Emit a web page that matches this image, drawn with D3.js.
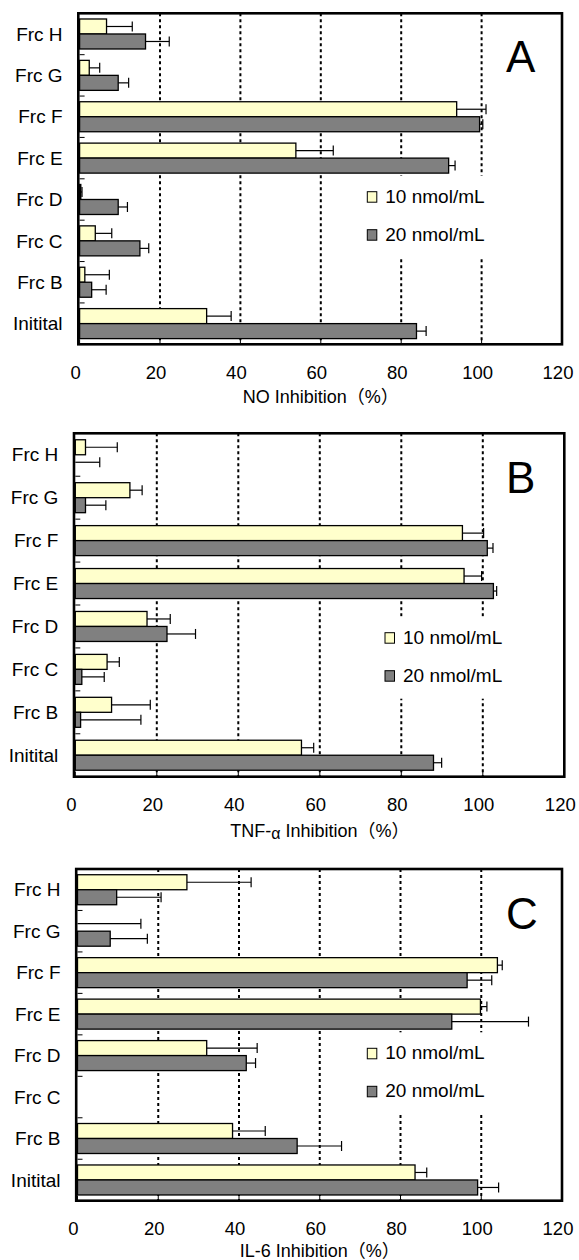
<!DOCTYPE html>
<html>
<head>
<meta charset="utf-8">
<script src="https://cdnjs.cloudflare.com/ajax/libs/d3/7.8.5/d3.min.js"></script>
<style>
    body { margin: 0; background: #ffffff; }
    svg text { font-family: "Liberation Sans", Arial, "Noto Sans CJK JP", sans-serif; fill: #000; }
</style>
</head>
<body>
<div id="chartArea"></div>
<script>

// categories top -> bottom, as they appear on the chart
var categories = ["Frc H", "Frc G", "Frc F", "Frc E", "Frc D", "Frc C", "Frc B", "Initital"];
var seriesNames = ["10 nmol/mL", "20 nmol/mL"];
var xTicks = [0, 20, 40, 60, 80, 100, 120];
var gridTicks = [20, 40, 60, 80, 100];
var panelLetters = ["A", "B", "C"];
var axisTitles = ["NO Inhibition（%）", "TNF-α Inhibition（%）", "IL-6 Inhibition（%）"];

// NO inhibition (%)
var noLow = [6.7, 2.4, 93.8, 53.8, 0.3, 3.9, 1.3, 31.6];
var noLowSd = [6.4, 2.6, 7.3, 9.3, 0.3, 4.1, 6.1, 6.1];
var noHigh = [16.4, 9.6, 99.5, 91.8, 9.6, 15.0, 3.0, 83.8];
var noHighSd = [5.9, 2.6, 0.8, 1.6, 2.3, 2.2, 3.6, 2.4];

// TNF-alpha inhibition (%)
var tnfLow = [2.5, 13.4, 95.0, 95.4, 17.6, 7.8, 8.9, 55.5];
var tnfLowSd = [7.8, 3.0, 5.2, 4.3, 5.7, 3.0, 9.5, 3.0];
var tnfHigh = [0, 2.5, 101.1, 102.6, 22.5, 1.6, 1.3, 87.9];
var tnfHighSd = [6.0, 5.0, 1.4, 0.8, 7.0, 5.5, 14.8, 2.0];

// IL-6 inhibition (%) - Frc C has no data
var il6Low = [27.1, 0, 104.0, 99.8, 32.0, null, 38.4, 83.6];
var il6LowSd = [15.9, 15.7, 1.2, 1.6, 12.5, null, 8.1, 2.9];
var il6High = [9.7, 8.1, 96.5, 92.7, 41.8, null, 54.4, 99.1];
var il6HighSd = [11.0, 9.2, 6.1, 19.0, 2.3, null, 11.0, 5.2];

var seriesColours = ["#ffffcc", "#808080"];

// page layout of the three panels (pixels)
var layout = [
    {top: 13.3, bottom: 344.3, x0: 79.6, x1: 562, legX: 367.3, legY: 191.7, letterBase: 71.7, tickBase: 379.3, titleBase: 403.3},
    {top: 433.3, bottom: 776.7, x0: 75.3, x1: 564.3, legX: 385, legY: 632.7, letterBase: 493.3, tickBase: 811, titleBase: 836.7},
    {top: 869, bottom: 1200.7, x0: 77.5, x1: 562, legX: 367.3, legY: 1048.3, letterBase: 929, tickBase: 1235, titleBase: 1257.3}
];
var pairHeight = 30;

var panels = [
    [[noLow, noLowSd], [noHigh, noHighSd]],
    [[tnfLow, tnfLowSd], [tnfHigh, tnfHighSd]],
    [[il6Low, il6LowSd], [il6High, il6HighSd]]
];

var svg = d3.select("#chartArea")
    .append("svg")
    .attr("width", 579)
    .attr("height", 1260);

function drawPanel(index) {
    var lay = layout[index];
    var series = panels[index];
    var g = svg.append("g").attr("id", "panel" + panelLetters[index]);

    var x = d3.scaleLinear().domain([0, 120]).range([lay.x0, lay.x1]);
    var step = (lay.bottom - lay.top) / categories.length;
    var pad = 1 - pairHeight / step;
    var y = d3.scaleBand().domain(categories).range([lay.top, lay.bottom])
        .paddingInner(pad).paddingOuter(pad / 2);
    var ySub = d3.scaleBand().domain([0, 1]).range([0, y.bandwidth()]);

    // dotted gridlines
    g.append("g").selectAll("line")
        .data(gridTicks)
        .enter().append("line")
        .attr("x1", function (d) { return x(d); })
        .attr("x2", function (d) { return x(d); })
        .attr("y1", lay.top)
        .attr("y2", lay.bottom)
        .attr("stroke", "#000")
        .attr("stroke-width", 2)
        .attr("stroke-dasharray", "3,3");

    // legend (white box hides the gridlines behind it)
    var leg = g.append("g");
    leg.append("rect")
        .attr("x", lay.legX - 10)
        .attr("y", lay.legY - 16)
        .attr("width", 145)
        .attr("height", 82)
        .attr("fill", "#fff");
    seriesNames.forEach(function (name, s) {
        leg.append("rect")
            .attr("x", lay.legX)
            .attr("y", lay.legY + s * 38)
            .attr("width", 9.5)
            .attr("height", 10.5)
            .attr("fill", seriesColours[s])
            .attr("stroke", "#000")
            .attr("stroke-width", 1);
        leg.append("text")
            .attr("x", lay.legX + 18)
            .attr("y", lay.legY + s * 38 + 11)
            .attr("font-size", "19px")
            .text(name);
    });

    // bars + error bars
    series.forEach(function (pair, s) {
        var vals = pair[0], sds = pair[1];
        var bg = g.append("g");
        categories.forEach(function (cat, i) {
            var v = vals[i];
            if (v == null) {
                return;
            }
            var by = y(cat) + ySub(s);
            var bh = ySub.bandwidth();
            if (v > 0) {
                bg.append("rect")
                    .attr("x", x(0))
                    .attr("y", by)
                    .attr("width", x(v) - x(0))
                    .attr("height", bh)
                    .attr("fill", seriesColours[s])
                    .attr("stroke", "#000")
                    .attr("stroke-width", 1.3);
            }
            var sd = sds[i];
            if (sd != null) {
                var cy = by + bh / 2;
                bg.append("line")
                    .attr("x1", x(v)).attr("x2", x(v + sd))
                    .attr("y1", cy).attr("y2", cy)
                    .attr("stroke", "#000").attr("stroke-width", 1.2);
                bg.append("line")
                    .attr("x1", x(v + sd)).attr("x2", x(v + sd))
                    .attr("y1", cy - 5).attr("y2", cy + 5)
                    .attr("stroke", "#000").attr("stroke-width", 1.2);
            }
        });
    });

    // frame
    g.append("rect")
        .attr("x", lay.x0 - 1.3)
        .attr("y", lay.top)
        .attr("width", lay.x1 - lay.x0 + 1.3)
        .attr("height", lay.bottom - lay.top)
        .attr("fill", "none")
        .attr("stroke", "#000")
        .attr("stroke-width", 2.6);

    // inward ticks on the category axis (between categories)
    g.append("g").selectAll("line")
        .data(categories.slice(1))
        .enter().append("line")
        .attr("x1", lay.x0)
        .attr("x2", lay.x0 + 5)
        .attr("y1", function (d) { return y(d) - y.step() * pad / 2; })
        .attr("y2", function (d) { return y(d) - y.step() * pad / 2; })
        .attr("stroke", "#000")
        .attr("stroke-width", 1);

    // inward ticks on the value axis
    g.append("g").selectAll("line")
        .data(xTicks)
        .enter().append("line")
        .attr("x1", function (d) { return x(d); })
        .attr("x2", function (d) { return x(d); })
        .attr("y1", lay.bottom)
        .attr("y2", lay.bottom - 5)
        .attr("stroke", "#000")
        .attr("stroke-width", 1);

    // tick labels
    g.append("g").selectAll("text")
        .data(xTicks)
        .enter().append("text")
        .attr("x", function (d) { return x(d) - 4; })
        .attr("y", lay.tickBase)
        .attr("text-anchor", "middle")
        .attr("font-size", "18.5px")
        .text(function (d) { return d; });

    // category labels
    g.append("g").selectAll("text")
        .data(categories)
        .enter().append("text")
        .attr("x", lay.x0 - 17)
        .attr("y", function (d) { return y(d) + y.bandwidth() / 2; })
        .attr("dy", "0.35em")
        .attr("text-anchor", "end")
        .attr("font-size", "19px")
        .text(function (d) { return d; });

    // panel letter
    g.append("text")
        .attr("x", 506)
        .attr("y", lay.letterBase)
        .attr("font-size", "44px")
        .text(panelLetters[index]);

    // axis title (greek alpha drawn a bit smaller and lower)
    var title = g.append("text")
        .attr("x", (lay.x0 + lay.x1) / 2)
        .attr("y", lay.titleBase)
        .attr("text-anchor", "middle")
        .attr("font-size", "18px");
    var parts = axisTitles[index].split("α");
    title.append("tspan").text(parts[0]);
    if (parts.length > 1) {
        title.append("tspan").attr("font-size", "16px").attr("dy", 2).text("α");
        title.append("tspan").attr("dy", -2).text(parts[1]);
    }
}

for (var p = 0; p < panels.length; p++) {
    drawPanel(p);
}

</script>
</body>
</html>
